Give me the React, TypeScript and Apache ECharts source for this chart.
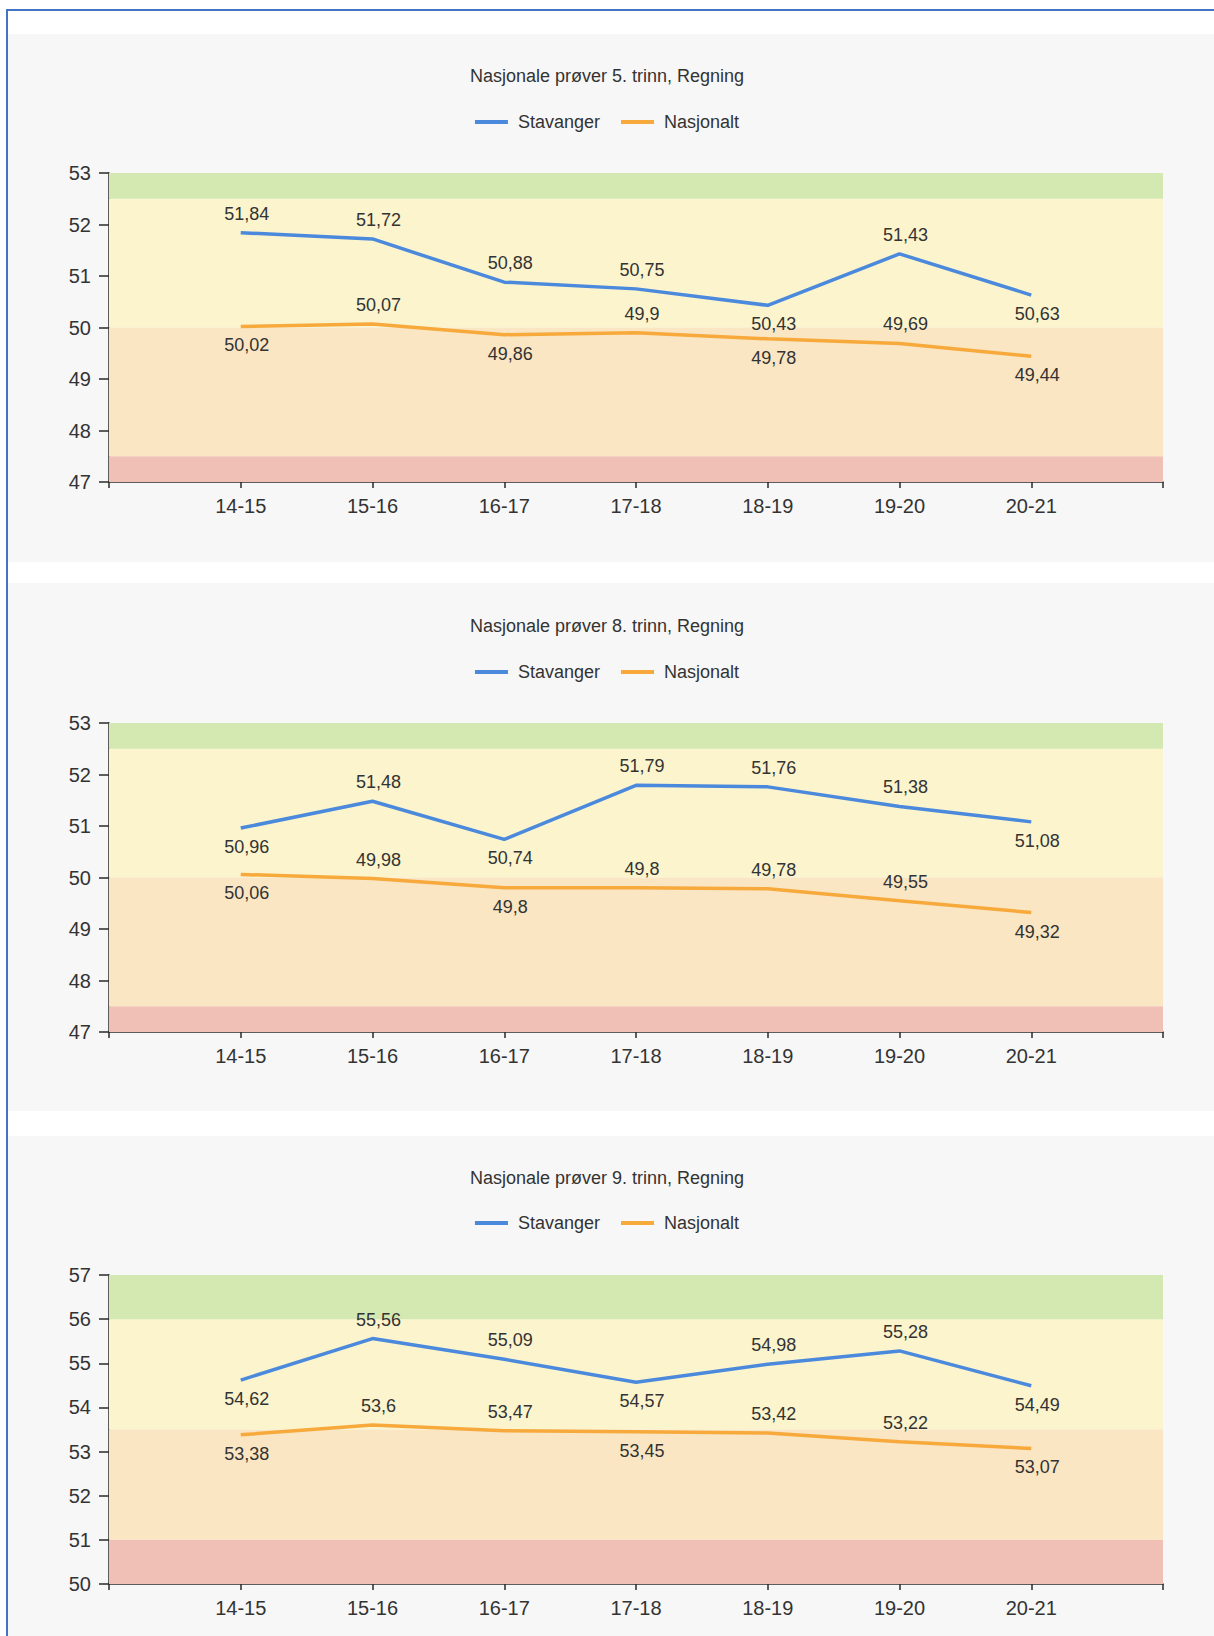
import React, { useEffect, useRef } from "react";
import * as echarts from "echarts";

const categories = ["14-15", "15-16", "16-17", "17-18", "18-19", "19-20", "20-21"];
const seriesNames = ["Stavanger", "Nasjonalt"];
const titles = [
  "Nasjonale prøver 5. trinn, Regning",
  "Nasjonale prøver 8. trinn, Regning",
  "Nasjonale prøver 9. trinn, Regning",
];

const stavanger5 = [51.84, 51.72, 50.88, 50.75, 50.43, 51.43, 50.63];
const nasjonalt5 = [50.02, 50.07, 49.86, 49.9, 49.78, 49.69, 49.44];
const stavanger8 = [50.96, 51.48, 50.74, 51.79, 51.76, 51.38, 51.08];
const nasjonalt8 = [50.06, 49.98, 49.8, 49.8, 49.78, 49.55, 49.32];
const stavanger9 = [54.62, 55.56, 55.09, 54.57, 54.98, 55.28, 54.49];
const nasjonalt9 = [53.38, 53.6, 53.47, 53.45, 53.42, 53.22, 53.07];

// y-axis ranges per panel
const yMin = [47, 47, 50];
const yMax = [53, 53, 57];
// band thresholds per panel (bottom → top)
const bands5 = [47, 47.5, 50, 52.5, 53];
const bands8 = [47, 47.5, 50, 52.5, 53];
const bands9 = [50, 51, 53.5, 56, 57];

// label placement per point
const pos5s = ["top", "top", "top", "top", "bottom", "top", "bottom"];
const pos5n = ["bottom", "top", "bottom", "top", "bottom", "top", "bottom"];
const pos8s = ["bottom", "top", "bottom", "top", "top", "top", "bottom"];
const pos8n = ["bottom", "top", "bottom", "top", "top", "top", "bottom"];
const pos9s = ["bottom", "top", "top", "bottom", "top", "top", "bottom"];
const pos9n = ["bottom", "top", "top", "bottom", "top", "top", "bottom"];

const FONT = "'Liberation Sans', Arial, Helvetica, sans-serif";
const BLUE = "#4a89dc";
const ORANGE = "#f7a93b";
const BAND_COLORS = ["#f0bfb6", "#fae6c3", "#fbf4cd", "#d4e9b2"];
const TEXT = "#333333";

const gridTops = [173, 723, 1275];
const titleTops = [67, 617, 1169];
const legendTops = [108, 658, 1209];
const panelBg = [
  [34, 562],
  [583, 1111],
  [1136, 1636],
];

function fmt(v: number) {
  return String(v).replace(".", ",");
}

function buildOption() {
  const stav = [stavanger5, stavanger8, stavanger9];
  const nasj = [nasjonalt5, nasjonalt8, nasjonalt9];
  const posS = [pos5s, pos8s, pos9s];
  const posN = [pos5n, pos8n, pos9n];
  const bands = [bands5, bands8, bands9];

  const grid: any[] = [];
  const xAxis: any[] = [];
  const yAxis: any[] = [];
  const title: any[] = [];
  const legend: any[] = [];
  const series: any[] = [];

  for (let p = 0; p < 3; p++) {
    grid.push({ left: 109, right: 51, top: gridTops[p], height: 309 });
    title.push({
      text: titles[p],
      left: "center",
      top: titleTops[p],
      padding: 0,
      textStyle: { fontFamily: FONT, fontSize: 18, fontWeight: "normal", color: TEXT },
    });
    legend.push({
      data: seriesNames,
      top: legendTops[p],
      left: "center",
      icon: "rect",
      itemWidth: 33,
      itemHeight: 4,
      itemGap: 21,
      selectedMode: false,
      textStyle: { fontFamily: FONT, fontSize: 18, color: TEXT, padding: [0, 0, 0, 5] },
    });
    xAxis.push({
      type: "value",
      gridIndex: p,
      min: 0,
      max: 8,
      interval: 1,
      splitLine: { show: false },
      axisLine: { show: true, lineStyle: { color: "#2a2a2a", width: 1.5 } },
      axisTick: { show: true, length: 6, lineStyle: { color: "#2a2a2a", width: 1.5 } },
      axisLabel: {
        margin: 14,
        fontFamily: FONT,
        fontSize: 20,
        color: TEXT,
        formatter: (v: number) => (v >= 1 && v <= categories.length ? categories[v - 1] : ""),
      },
    });
    yAxis.push({
      type: "value",
      gridIndex: p,
      min: yMin[p],
      max: yMax[p],
      interval: 1,
      splitLine: { show: false },
      axisLine: { show: true, lineStyle: { color: "#2a2a2a", width: 1.5 } },
      axisTick: { show: true, length: 10, lineStyle: { color: "#2a2a2a", width: 1.5 } },
      axisLabel: { margin: 18, fontFamily: FONT, fontSize: 20, color: TEXT },
    });

    const b = bands[p];
    series.push({
      type: "line",
      xAxisIndex: p,
      yAxisIndex: p,
      data: [],
      silent: true,
      z: 1,
      markArea: {
        silent: true,
        data: BAND_COLORS.map((c, i) => [
          { yAxis: b[i], itemStyle: { color: c } },
          { yAxis: b[i + 1] },
        ]),
      },
    });

    const mk = (name: string, vals: number[], pos: string[], color: string) => ({
      name,
      type: "line",
      xAxisIndex: p,
      yAxisIndex: p,
      z: 3,
      symbol: "circle",
      symbolSize: 0,
      showSymbol: true,
      lineStyle: { color, width: 3.5 },
      itemStyle: { color },
      data: vals.map((v, i) => ({
        value: [i + 1, v],
        label: { show: true, position: pos[i] },
      })),
      label: {
        show: true,
        distance: 10,
        offset: [6, 0],
        fontFamily: FONT,
        fontSize: 18,
        color: TEXT,
        formatter: (prm: any) => fmt(prm.value[1]),
      },
    });
    series.push(mk(seriesNames[0], stav[p], posS[p], BLUE));
    series.push(mk(seriesNames[1], nasj[p], posN[p], ORANGE));
  }

  return {
    animation: false,
    backgroundColor: "transparent",
    title,
    legend,
    grid,
    xAxis,
    yAxis,
    series,
  };
}

export default function App() {
  const ref = useRef<HTMLDivElement>(null);
  useEffect(() => {
    if (!ref.current) return;
    const chart = echarts.init(ref.current, null, { renderer: "svg" });
    chart.setOption(buildOption() as any);
    return () => chart.dispose();
  }, []);

  return (
    <div
      style={{
        position: "absolute",
        left: 0,
        top: 0,
        width: 1214,
        height: 1636,
        background: "#ffffff",
        overflow: "hidden",
      }}
    >
      {panelBg.map(([t, bt], i) => (
        <div
          key={i}
          style={{
            position: "absolute",
            left: 8,
            top: t,
            width: 1214 - 8,
            height: bt - t,
            background: "#f7f7f7",
          }}
        />
      ))}
      <div style={{ position: "absolute", left: 6, top: 9, width: 1214 - 6, height: 2, background: "#4472c4" }} />
      <div style={{ position: "absolute", left: 6, top: 9, width: 2, height: 1636 - 9, background: "#4472c4" }} />
      <div ref={ref} style={{ position: "absolute", left: 0, top: 0, width: 1214, height: 1636 }} />
    </div>
  );
}
